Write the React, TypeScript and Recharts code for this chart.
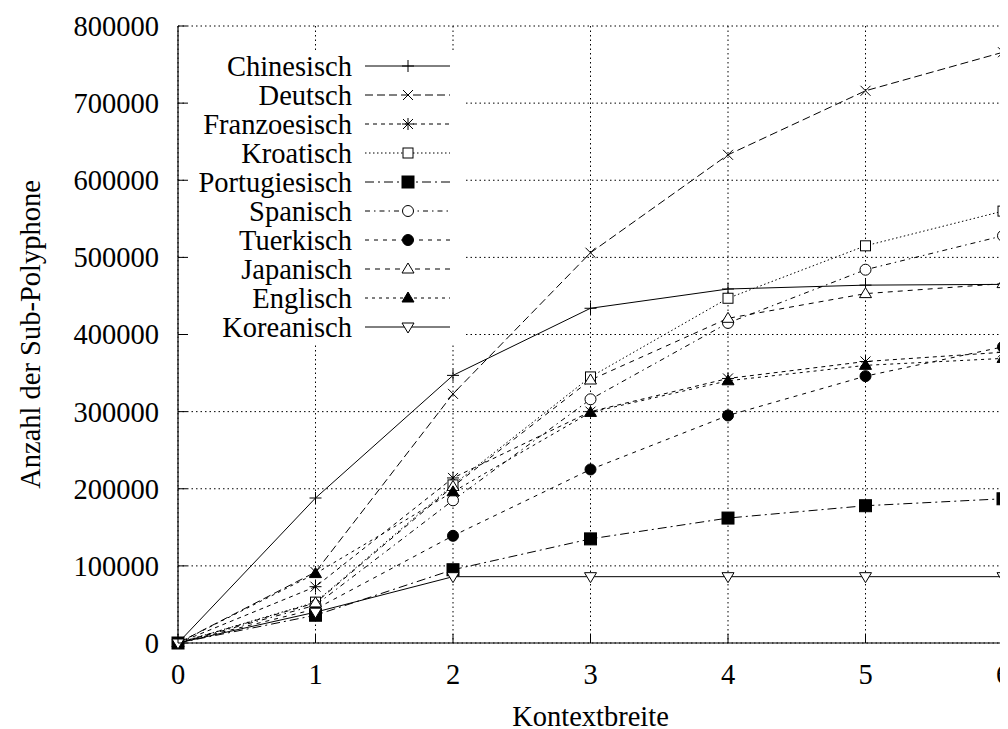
import { CartesianGrid, Legend, Line, LineChart, XAxis, YAxis } from "recharts";

const kontext = [0, 1, 2, 3, 4, 5, 6];
const chinesisch = [0, 188000, 347000, 434000, 459000, 464000, 465000];
const deutsch = [0, 92000, 323000, 506000, 633000, 716000, 766000];
const franzoesisch = [0, 73000, 214000, 300000, 343000, 365000, 377000];
const kroatisch = [0, 53000, 205000, 345000, 447000, 515000, 560000];
const portugiesisch = [0, 36000, 95000, 135000, 162000, 178000, 187000];
const spanisch = [0, 49000, 185000, 316000, 415000, 484000, 528000];
const tuerkisch = [0, 44000, 139000, 225000, 295000, 346000, 384000];
const japanisch = [0, 52000, 203000, 341000, 421000, 453000, 466000];
const englisch = [0, 90000, 196000, 299000, 340000, 360000, 369000];
const koreanisch = [0, 40000, 86000, 86000, 86000, 86000, 86000];

const xTicks = [0, 1, 2, 3, 4, 5, 6];
const yTicks = [0, 100000, 200000, 300000, 400000, 500000, 600000, 700000, 800000];

type Shape =
  | "plus"
  | "cross"
  | "star"
  | "box"
  | "boxFilled"
  | "circle"
  | "circleFilled"
  | "tri"
  | "triFilled"
  | "triDown";

const series: { name: string; values: number[]; dash: string; shape: Shape }[] = [
  { name: "Chinesisch", values: chinesisch, dash: "", shape: "plus" },
  { name: "Deutsch", values: deutsch, dash: "8 4", shape: "cross" },
  { name: "Franzoesisch", values: franzoesisch, dash: "4 4", shape: "star" },
  { name: "Kroatisch", values: kroatisch, dash: "1.5 2.5", shape: "box" },
  { name: "Portugiesisch", values: portugiesisch, dash: "9 4 2 4", shape: "boxFilled" },
  { name: "Spanisch", values: spanisch, dash: "5 4 1.5 4", shape: "circle" },
  { name: "Tuerkisch", values: tuerkisch, dash: "4 5", shape: "circleFilled" },
  { name: "Japanisch", values: japanisch, dash: "5 5", shape: "tri" },
  { name: "Englisch", values: englisch, dash: "3 4", shape: "triFilled" },
  { name: "Koreanisch", values: koreanisch, dash: "", shape: "triDown" },
];

const data = kontext.map((x, i) => {
  const row: Record<string, number> = { x };
  series.forEach((s) => (row[s.name] = s.values[i]));
  return row;
});

const FONT = "'Liberation Serif', 'DejaVu Serif', serif";
const FS = 28.5;

function Marker({ shape, cx, cy }: { shape: Shape; cx: number; cy: number }) {
  const st = { stroke: "#000", strokeWidth: 1 };
  switch (shape) {
    case "plus":
      return (
        <path d={`M${cx - 6},${cy}H${cx + 6}M${cx},${cy - 6}V${cy + 6}`} {...st} fill="none" />
      );
    case "cross":
      return (
        <path
          d={`M${cx - 5},${cy - 5}L${cx + 5},${cy + 5}M${cx - 5},${cy + 5}L${cx + 5},${cy - 5}`}
          {...st}
          fill="none"
        />
      );
    case "star":
      return (
        <path
          d={`M${cx - 6},${cy}H${cx + 6}M${cx},${cy - 6}V${cy + 6}M${cx - 5},${cy - 5}L${cx + 5},${cy + 5}M${cx - 5},${cy + 5}L${cx + 5},${cy - 5}`}
          {...st}
          fill="none"
        />
      );
    case "box":
      return <rect x={cx - 5} y={cy - 5} width={10} height={10} {...st} fill="#fff" />;
    case "boxFilled":
      return <rect x={cx - 6} y={cy - 6} width={12} height={12} {...st} fill="#000" />;
    case "circle":
      return <circle cx={cx} cy={cy} r={5.5} {...st} fill="#fff" />;
    case "circleFilled":
      return <circle cx={cx} cy={cy} r={5.5} {...st} fill="#000" />;
    case "tri":
      return (
        <path d={`M${cx},${cy - 6}L${cx + 6},${cy + 4}L${cx - 6},${cy + 4}Z`} {...st} fill="#fff" />
      );
    case "triFilled":
      return (
        <path d={`M${cx},${cy - 6}L${cx + 6},${cy + 4}L${cx - 6},${cy + 4}Z`} {...st} fill="#000" />
      );
    case "triDown":
      return (
        <path d={`M${cx},${cy + 6}L${cx + 6},${cy - 4}L${cx - 6},${cy - 4}Z`} {...st} fill="#fff" />
      );
  }
}

const LEFT_MARGIN = 19;
const BOTTOM_MARGIN = 31;
const TICK = 9;

const LeftTick = (p: any) => (
  <g>
    <line x1={p.x + LEFT_MARGIN} x2={p.x + LEFT_MARGIN + TICK} y1={p.y} y2={p.y} stroke="#000" />
    <text x={p.x} y={p.y} dy="0.35em" textAnchor="end" fontFamily={FONT} fontSize={FS} fill="#000">
      {p.payload.value}
    </text>
  </g>
);

const BottomTick = (p: any) => (
  <g>
    <line x1={p.x} x2={p.x} y1={p.y - BOTTOM_MARGIN} y2={p.y - BOTTOM_MARGIN - TICK} stroke="#000" />
    <text x={p.x} y={p.y} dy="0.35em" textAnchor="middle" fontFamily={FONT} fontSize={FS} fill="#000">
      {p.payload.value}
    </text>
  </g>
);

const TopTick = (p: any) => (
  <line x1={p.x} x2={p.x} y1={p.y} y2={p.y + TICK} stroke="#000" />
);

const RightTick = (p: any) => (
  <line x1={p.x} x2={p.x - TICK} y1={p.y} y2={p.y} stroke="#000" />
);

const YLabel = (p: any) => {
  const vb = p.viewBox;
  const x = vb.x + 22;
  const y = vb.y + vb.height / 2;
  return (
    <text
      x={x}
      y={y}
      transform={`rotate(-90 ${x} ${y})`}
      textAnchor="middle"
      dy="0.35em"
      fontFamily={FONT}
      fontSize={FS}
      fill="#000"
    >
      Anzahl der Sub-Polyphone
    </text>
  );
};

const LegendBox = () => {
  const rowH = 29;
  return (
    <svg width={278} height={293} style={{ display: "block", overflow: "visible" }}>
      {series.map((s, i) => {
        const y = 16 + i * rowH;
        return (
          <g key={s.name}>
            <text x={164} y={y} dy="0.35em" textAnchor="end" fontFamily={FONT} fontSize={FS} fill="#000">
              {s.name}
            </text>
            <line
              x1={177}
              x2={262}
              y1={y}
              y2={y}
              stroke="#000"
              strokeWidth={1}
              strokeDasharray={s.dash || undefined}
            />
            <Marker shape={s.shape} cx={220} cy={y} />
          </g>
        );
      })}
    </svg>
  );
};

export default function App() {
  return (
    <LineChart
      width={1000}
      height={721}
      data={data}
      margin={{ top: 18, right: 5, bottom: 0, left: 0 }}
      style={{ background: "#fff" }}
    >
      <CartesianGrid stroke="#000" strokeDasharray="1.5 3" strokeWidth={1} />
      <XAxis
        dataKey="x"
        type="number"
        domain={[0, 6]}
        ticks={xTicks}
        interval={0}
        height={86}
        tickSize={0}
        tickMargin={BOTTOM_MARGIN}
        tick={BottomTick}
        axisLine={{ stroke: "#000", strokeWidth: 1.2 }}
        label={{
          value: "Kontextbreite",
          position: "insideBottom",
          offset: 3,
          fontFamily: FONT,
          fontSize: FS,
          fill: "#000",
        }}
      />
      <XAxis
        xAxisId="top"
        orientation="top"
        dataKey="x"
        type="number"
        domain={[0, 6]}
        ticks={xTicks}
        interval={0}
        height={0}
        tickSize={0}
        tickMargin={0}
        tick={TopTick}
        axisLine={{ stroke: "#000", strokeWidth: 1.2 }}
      />
      <YAxis
        type="number"
        domain={[0, 800000]}
        ticks={yTicks}
        interval={0}
        width={170}
        tickSize={0}
        tickMargin={LEFT_MARGIN}
        tick={LeftTick}
        axisLine={{ stroke: "#000", strokeWidth: 1.2 }}
        label={<YLabel />}
      />
      <YAxis
        yAxisId="right"
        orientation="right"
        type="number"
        domain={[0, 800000]}
        ticks={yTicks}
        interval={0}
        width={0}
        tickSize={0}
        tickMargin={0}
        tick={RightTick}
        axisLine={{ stroke: "#000", strokeWidth: 1.2 }}
      />
      <Legend
        layout="horizontal"
        verticalAlign="middle"
        align="center"
        content={<LegendBox />}
        wrapperStyle={{ left: 180, top: 42, width: 278, height: 293, background: "#fff" }}
      />
      {series.map((s) => (
        <Line
          key={s.name}
          dataKey={s.name}
          name={s.name}
          type="linear"
          stroke="#000"
          strokeWidth={1}
          strokeDasharray={s.dash || undefined}
          isAnimationActive={false}
          dot={(p: any) => (
            <g key={`${s.name}-${p.index}`}>
              <Marker shape={s.shape} cx={p.cx} cy={p.cy} />
            </g>
          )}
          activeDot={false}
        />
      ))}
    </LineChart>
  );
}
